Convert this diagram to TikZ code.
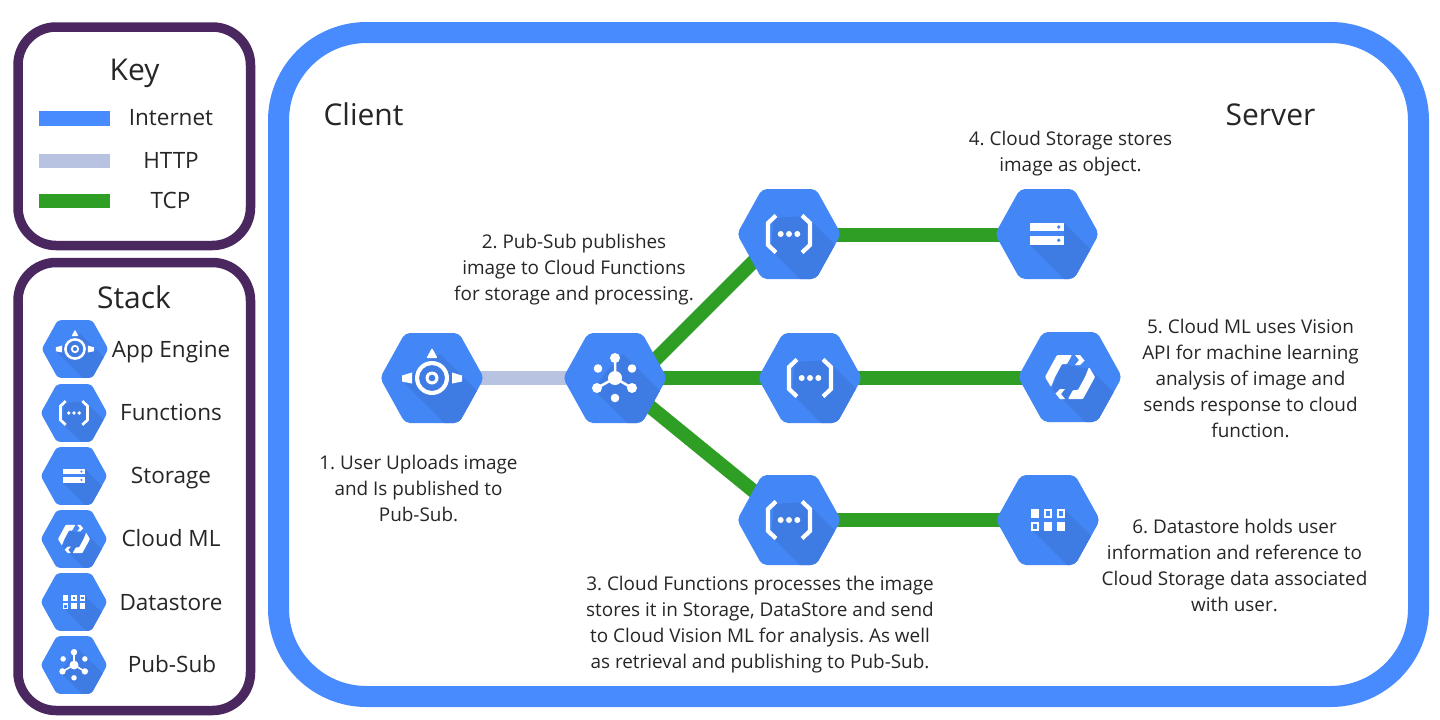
\documentclass[tikz,border=0pt]{standalone}
\usepackage{fontspec}
\setmainfont{Open Sans}
\frenchspacing
\definecolor{hexblue}{HTML}{4387F6}
\definecolor{hexdark}{HTML}{3E7BE2}
\definecolor{framepurple}{HTML}{4B275F}
\definecolor{mainblue}{HTML}{488BFF}
\definecolor{httpc}{HTML}{B7C3E0}
\definecolor{tcpc}{HTML}{2E9E24}
\definecolor{txt}{HTML}{262626}
\tikzset{
  httpline/.style={draw=httpc,line width=13.5pt},
  tcpline/.style={draw=tcpc,line width=14pt},
  keyframe/.style={draw=framepurple,line width=9.5pt,rounded corners=38pt},
  mainframe/.style={draw=mainblue,line width=21pt,rounded corners=88pt},
  body/.style={text=txt,align=center,inner sep=0pt,font=\fontsize{18.9}{26}\selectfont},
  head/.style={text=txt,inner sep=0pt,font=\fontsize{30}{36}\selectfont},
  stacklabel/.style={text=txt,inner sep=0pt,font=\fontsize{22.5}{27}\selectfont},
}
\newcommand{\iconapp}{%
  \fill[white,even odd rule] (0,0) circle[radius=17] (0,0) circle[radius=13];
  \fill[white,even odd rule] (0,0) circle[radius=6.5] (0,0) circle[radius=3.5];
  \fill[white,rounded corners=\rcs pt] (0,-30)--(5.5,-20)--(-5.5,-20)--cycle;
  \fill[white] (-30,-2.5)--(-20,-5.5)--(-20,5.5)--(-30,3.5)--cycle;
  \fill[white] (30,-2.5)--(20,-5.5)--(20,5.5)--(30,3.5)--cycle;
}
\newcommand{\iconfun}{%
  \draw[white,line width=\lw*4.2pt] (-13,-18.5)--(-21,-11)--(-21,11)--(-13,18.5);
  \draw[white,line width=\lw*4.2pt] (13,-18.5)--(21,-11)--(21,11)--(13,18.5);
  \foreach \px in {-8.3,0,8.3} \fill[white] (\px,0) circle[radius=3];
}
\newcommand{\iconsto}{%
  \fill[white] (-17,-11) rectangle (17,-2.7);
  \fill[white] (-17,1.8) rectangle (17,10.7);
  \fill[hexblue] (11.7,-7) circle[radius=1.9];
  \fill[hexblue] (11.7,6.2) circle[radius=1.9];
}
\newcommand{\iconml}{%
  \foreach \ang in {0,180}{
    \begin{scope}[rotate=\ang]
      \fill[white,rounded corners=\rcs pt] (-25,0)--(-13,-22)--(2,-22)--(-3,-13)--(-8,-13)--(-15,0)--(-19,10)--cycle;
      \fill[white] (5,-22)--(10,-22)--(14.5,-16.5)--(10,-12)--(5,-12)--(9,-17)--cycle;
    \end{scope}}
}
\newcommand{\icondat}{%
  \foreach \px/\py/\hollow in {-13/-6.5/0,0/-6.5/1,13/-6.5/1,-13/6.5/1,0/6.5/0,13/6.5/0}{
    \fill[white] (\px-4.2,\py-4.2) rectangle (\px+4.2,\py+4.2);
    \ifnum\hollow=1 \fill[hexblue] (\px-2.1,\py-2.1) rectangle (\px+2.1,\py+2.1);\fi
  }
}
\newcommand{\iconpub}{%
  \draw[white,line width=\lw*2.5pt] (0,0)--(0,-20) (0,0)--(-18,10) (0,0)--(17,10);
  \fill[white] (0,0) circle[radius=7];
  \fill[white] (0,-20) circle[radius=5];
  \fill[white] (-17,-9.5) circle[radius=4.3];
  \fill[white] (17,-9.5) circle[radius=4.3];
  \fill[white] (-18,10) circle[radius=5];
  \fill[white] (17,10) circle[radius=5];
  \fill[white] (0,20) circle[radius=4.3];
}
\newcommand{\shadeapp}{(-27,6)--(-12,-12)--(4,-22)--(8,-24)--(90,58)--(60,93)--cycle}
\newcommand{\shadefun}{(-18,16)--(-15,-16)--(17,-18)--(90,55)--(60,94)--cycle}
\newcommand{\shadesto}{(-17,11)--(17,11)--(17,-11)--(90,62)--(60,88)--cycle}
\newcommand{\shademl}{(-18,12)--(-8,-13)--(20,-8)--(90,62)--(60,90)--cycle}
\newcommand{\shadedat}{(-16,10)--(17,10)--(17,-10)--(90,63)--(60,86)--cycle}
\newcommand{\shadepub}{(-21,12)--(-10,-5)--(8,-24)--(90,58)--(60,92)--cycle}
\newcommand{\hexicon}[5]{%
  \coordinate (#1) at (#2,#3);
  \begin{scope}[shift={(#2,#3)},scale=#4]
    \pgfmathsetmacro{\lw}{#4}
    \pgfmathsetmacro{\rcb}{5*#4}
    \pgfmathsetmacro{\rcs}{1*#4}
    \begin{scope}
      \clip[rounded corners=\rcb pt] (-52,0)--(-27,-45)--(27,-45)--(52,0)--(27,45)--(-27,45)--cycle;
      \fill[hexblue] (-60,-50) rectangle (60,50);
      \fill[hexdark] \csname shade#5\endcsname;
    \end{scope}
    \csname icon#5\endcsname
  \end{scope}}
\begin{document}
\begin{tikzpicture}[x=1pt,y=-1pt]
\useasboundingbox (0,0) rectangle (1440,720);
\fill[white] (0,0) rectangle (1440,720);
% frames
\draw[mainframe] (278.5,32.5) rectangle (1418.5,696.5);
\draw[keyframe] (18,27) rectangle (250.5,245.5);
\draw[keyframe] (18,262.5) rectangle (250.5,710.5);
% key
\node[head] (keytitle) at (134.5,73) {Key};
\fill[mainblue] (39,111) rectangle (110,126);
\fill[httpc] (39,154) rectangle (110,168);
\fill[tcpc] (39,194) rectangle (110,208);
\node[stacklabel] (kint) at (171,118) {Internet};
\node[stacklabel] (khttp) at (171,160) {HTTP};
\node[stacklabel] (ktcp) at (170.5,200) {TCP};
% stack
\node[head] (stacktitle) at (134,297) {Stack};
\hexicon{s1}{75}{349}{0.64}{app}
\hexicon{s2}{74}{413}{0.64}{fun}
\hexicon{s3}{74}{476}{0.64}{sto}
\hexicon{s4}{74}{539}{0.64}{ml}
\hexicon{s5}{74}{602}{0.64}{dat}
\hexicon{s6}{74}{665}{0.64}{pub}
\node[stacklabel] (l1) at (171,352) {App Engine};
\node[stacklabel] (l2) at (171,412) {Functions};
\node[stacklabel] (l3) at (171,478) {Storage};
\node[stacklabel] (l4) at (171,538) {Cloud ML};
\node[stacklabel] (l5) at (171,603) {Datastore};
\node[stacklabel] (l6) at (172,664) {Pub-Sub};
% main coordinates first for connectors
\coordinate (app) at (432,378);
\coordinate (pub) at (615,378);
\coordinate (f1) at (789,235);
\coordinate (sto) at (1047,235);
\coordinate (f2) at (810,378);
\coordinate (ml) at (1070,378);
\coordinate (f3) at (789,520);
\coordinate (dat) at (1048,520);
\draw[httpline] (app) -- (pub);
\draw[tcpline] ([shift={(0,22)}]pub) -- ([shift={(0,-9)}]f1);
\draw[tcpline] (pub) -- (f2);
\draw[tcpline] (pub) -- (f3);
\draw[tcpline] (f1) -- (sto);
\draw[tcpline] (f2) -- (ml);
\draw[tcpline] (f3) -- (dat);
\hexicon{appi}{432}{378}{1}{app}
\hexicon{pubi}{615}{378}{1}{pub}
\hexicon{f1i}{789}{234}{1}{fun}
\hexicon{stoi}{1047}{234}{1}{sto}
\hexicon{f2i}{810}{378}{1}{fun}
\hexicon{mli}{1070}{377}{1}{ml}
\hexicon{f3i}{789}{520}{1}{fun}
\hexicon{dati}{1048}{520}{1}{dat}
% text
\node[head] (client) at (363.5,114) {Client};
\node[head] (server) at (1270.5,115) {Server};
\node[body] (t1) at (418.5,488) {1. User Uploads image\\and Is published to\\Pub-Sub.};
\node[body] (t2) at (574,270) {2. Pub-Sub publishes\\image to Cloud Functions\\for storage and processing.};
\node[body] (t3) at (760,625) {3. Cloud Functions processes the image\\stores it in Storage, DataStore and send\\to Cloud Vision ML for analysis. As well\\as retrieval and publishing to Pub-Sub.};
\node[body] (t4) at (1070.5,154) {4. Cloud Storage stores\\image as object.};
\node[body] (t5) at (1250.5,378) {5. Cloud ML uses Vision\\API for machine learning\\analysis of image and\\sends response to cloud\\function.};
\node[body] (t6) at (1234.5,565) {6. Datastore holds user\\information and reference to\\Cloud Storage data associated\\with user.};
\end{tikzpicture}
\end{document}
